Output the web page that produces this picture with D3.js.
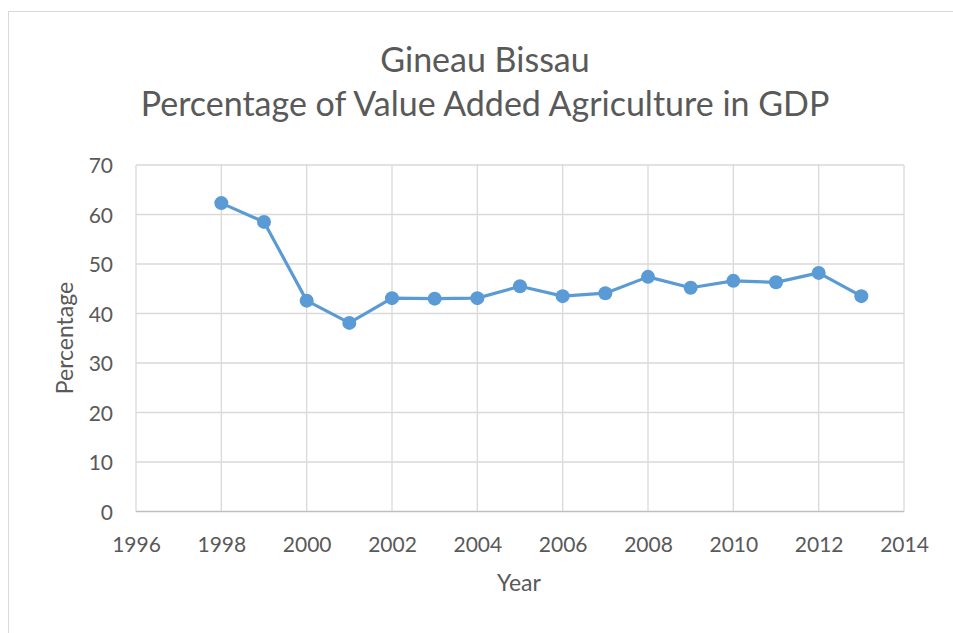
<!DOCTYPE html>
<html><head><meta charset="utf-8">
<script src="https://cdn.jsdelivr.net/npm/d3@7"></script>
<style>body{margin:0;background:#fff}svg{display:block}</style>
</head><body>
<script>
const years = [1998,1999,2000,2001,2002,2003,2004,2005,2006,2007,2008,2009,2010,2011,2012,2013];
const values = [62.3,58.5,42.6,38.1,43.1,43.0,43.1,45.5,43.5,44.1,47.4,45.2,46.6,46.3,48.2,43.5];
const xTicks = [1996,1998,2000,2002,2004,2006,2008,2010,2012,2014];
const yTicks = [0,10,20,30,40,50,60,70];
const titleLines = ["Gineau Bissau","Percentage of Value Added Agriculture in GDP"];
const xLabel = "Year", yLabel = "Percentage";

const W=953,H=633;
const font = "Lato, 'Open Sans', sans-serif";
const svg = d3.select("body").append("svg").attr("width",W).attr("height",H);
svg.append("rect").attr("x",8.5).attr("y",11.5).attr("width",960).attr("height",640)
  .attr("fill","#fff").attr("stroke","#d9d9d9").attr("stroke-width",1);

const x = d3.scaleLinear().domain([1996,2014]).range([136,904]);
const y = d3.scaleLinear().domain([0,70]).range([511.5,165]);

const g = svg.append("g");
g.selectAll(".vg").data(xTicks).join("line")
  .attr("x1",d=>x(d)).attr("x2",d=>x(d)).attr("y1",y(70)).attr("y2",y(0))
  .attr("stroke","#d9d9d9").attr("stroke-width",1.3);
g.selectAll(".hg").data(yTicks).join("line")
  .attr("x1",x(1996)).attr("x2",x(2014)).attr("y1",d=>y(d)).attr("y2",d=>y(d))
  .attr("stroke",d=>d===0?"#bfbfbf":"#d9d9d9").attr("stroke-width",1.3);

const xAxis = d3.axisBottom(x).tickValues(xTicks).tickFormat(d3.format("d")).tickSize(0).tickPadding(23);
const ax = svg.append("g").attr("transform",`translate(0,${y(0)})`).call(xAxis);
const yAxis = d3.axisLeft(y).tickValues(yTicks).tickSize(0).tickPadding(23);
const ay = svg.append("g").attr("transform",`translate(${x(1996)},0)`).call(yAxis);
[ax,ay].forEach(a=>{a.select(".domain").remove();
  a.selectAll("text").attr("fill","#595959").style("font-family",font).style("font-size","21px");});
ax.selectAll("text").attr("dy",null).attr("y",null).attr("transform","translate(0,40)");
ay.selectAll("text").attr("dy","0.36em");

const line = d3.line().x((d,i)=>x(years[i])).y(d=>y(d));
svg.append("path").datum(values).attr("d",line).attr("fill","none")
  .attr("stroke","#5b9bd5").attr("stroke-width",3.2).attr("stroke-linejoin","round");
svg.selectAll(".pt").data(values).join("circle")
  .attr("cx",(d,i)=>x(years[i])).attr("cy",d=>y(d)).attr("r",7).attr("fill","#5b9bd5");

svg.selectAll(".title").data(titleLines).join("text")
  .attr("x",485).attr("y",(d,i)=>72+i*44).attr("text-anchor","middle")
  .attr("fill","#595959").style("font-family",font).style("font-size","34px").text(d=>d);
svg.append("text").attr("x",519).attr("y",591).attr("text-anchor","middle")
  .attr("fill","#595959").style("font-family",font).style("font-size","23px").text(xLabel);
svg.append("text").attr("transform","translate(73,338) rotate(-90)").attr("text-anchor","middle")
  .attr("fill","#595959").style("font-family",font).style("font-size","23px").text(yLabel);
</script>
</body></html>
